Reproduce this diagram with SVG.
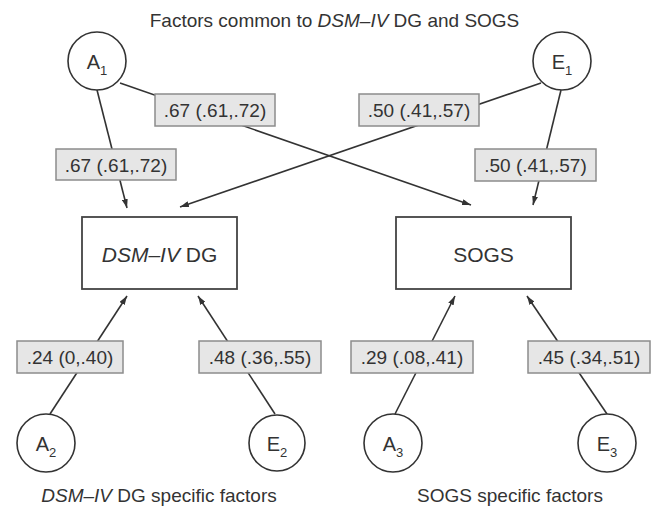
<svg xmlns="http://www.w3.org/2000/svg" width="656" height="512" viewBox="0 0 656 512">
<style>
text{font-family:"Liberation Sans",Arial,sans-serif;fill:#333}
.t{font-size:19px}
.lbl{font-size:19px;text-anchor:middle}
.lb{fill:#e6e6e6;stroke:#8c8c8c;stroke-width:1.5}
.nd{fill:#fff;stroke:#444;stroke-width:1.8}
.ci{fill:#fff;stroke:#333;stroke-width:1.6}
.ct{font-size:20px;text-anchor:middle}
.sub{font-size:13px}
.c{stroke:#333;stroke-width:1.6;fill:none;marker-end:url(#ah)}
.c0{stroke:#333;stroke-width:1.6;fill:none}
</style>
<defs>
<marker id="ah" markerUnits="userSpaceOnUse" markerWidth="9" markerHeight="6" refX="9" refY="3" orient="auto">
<path d="M0,0 L9,3 L0,6 z" fill="#333"/>
</marker>
</defs>
<text class="t" x="334.5" y="27" text-anchor="middle">Factors common to <tspan font-style="italic">DSM–IV</tspan> DG and SOGS</text>
<g id="connectors">
<line class="c" x1="97" y1="90" x2="127" y2="208"/>
<line class="c" x1="120" y1="83" x2="471" y2="205"/>
<line class="c" x1="541" y1="83" x2="180" y2="207"/>
<line class="c" x1="561" y1="90" x2="533" y2="205"/>
<line class="c" x1="50" y1="414" x2="127" y2="296"/>
<line class="c" x1="275" y1="414" x2="198" y2="296"/>
<line class="c" x1="395" y1="414" x2="455" y2="296"/>
<line class="c" x1="607" y1="414" x2="527" y2="296"/>
</g>
<g id="labels">
<rect class="lb" x="155" y="94" width="120" height="32"/><text class="lbl" x="215" y="117">.67 (.61,.72)</text>
<rect class="lb" x="56" y="149" width="120" height="31"/><text class="lbl" x="116" y="172">.67 (.61,.72)</text>
<rect class="lb" x="359" y="94" width="120" height="32"/><text class="lbl" x="419" y="117">.50 (.41,.57)</text>
<rect class="lb" x="475" y="149" width="121" height="32"/><text class="lbl" x="535.5" y="172">.50 (.41,.57)</text>
<rect class="lb" x="17" y="341" width="106" height="32"/><text class="lbl" x="70" y="364">.24 (0,.40)</text>
<rect class="lb" x="199" y="341" width="122" height="32"/><text class="lbl" x="260" y="364">.48 (.36,.55)</text>
<rect class="lb" x="351" y="341" width="122" height="32"/><text class="lbl" x="412" y="364">.29 (.08,.41)</text>
<rect class="lb" x="528" y="341" width="122" height="32"/><text class="lbl" x="589" y="364">.45 (.34,.51)</text>
</g>
<g id="A1"><circle class="ci" cx="97" cy="61" r="29"/><text class="ct" x="97" y="69">A<tspan class="sub" dy="6">1</tspan></text></g>
<g id="E1"><circle class="ci" cx="562" cy="61" r="29"/><text class="ct" x="562" y="69">E<tspan class="sub" dy="6">1</tspan></text></g>
<g id="DSM"><rect class="nd" x="82" y="217" width="155" height="72"/><text x="159.5" y="262" font-size="21" text-anchor="middle"><tspan font-style="italic">DSM–IV</tspan> DG</text></g>
<g id="SOGS"><rect class="nd" x="396" y="217" width="175" height="72"/><text x="483.5" y="262" font-size="21" text-anchor="middle">SOGS</text></g>
<g id="A2"><circle class="ci" cx="46" cy="443" r="29"/><text class="ct" x="46" y="451">A<tspan class="sub" dy="6">2</tspan></text></g>
<g id="E2"><circle class="ci" cx="277" cy="443" r="28"/><text class="ct" x="277" y="451">E<tspan class="sub" dy="6">2</tspan></text></g>
<g id="A3"><circle class="ci" cx="393" cy="443" r="29"/><text class="ct" x="393" y="451">A<tspan class="sub" dy="6">3</tspan></text></g>
<g id="E3"><circle class="ci" cx="607" cy="443" r="29"/><text class="ct" x="607" y="451">E<tspan class="sub" dy="6">3</tspan></text></g>
<text class="t" x="159" y="502" text-anchor="middle"><tspan font-style="italic">DSM–IV</tspan> DG specific factors</text>
<text class="t" x="510" y="502" text-anchor="middle">SOGS specific factors</text>
</svg>
